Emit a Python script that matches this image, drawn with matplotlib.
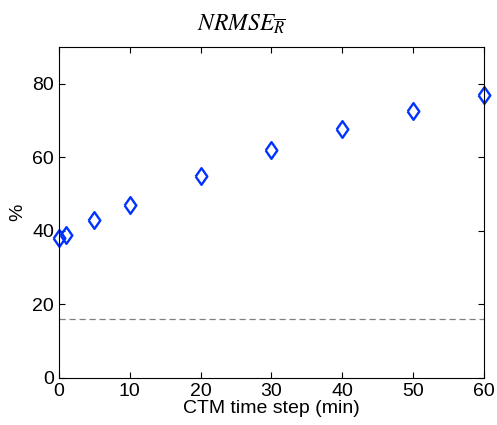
import numpy as np
import matplotlib
matplotlib.use("Agg")
from matplotlib import pyplot as plt

# datos
pasos = [0, 1, 5, 10, 20, 30, 40, 50, 60]
nrmse = [38.2, 38.8, 42.9, 47.0, 54.9, 62.0, 67.8, 72.7, 77.0]
referencia = 16.1

plt.rcParams['font.family'] = ['Liberation Sans', 'DejaVu Sans']
plt.rcParams['mathtext.fontset'] = 'stix'

# rombo un poco mas ancho que el 'd' de matplotlib
rombo = [(-0.7, 0), (0, 1), (0.7, 0), (0, -1), (-0.7, 0)]

fig = plt.figure(figsize=(4.97, 4.25), dpi=100)
ax = fig.add_axes([0.1187, 0.1106, 0.8551, 0.7784])
ax.plot(pasos, nrmse, linestyle='none', marker=rombo, markersize=12,
        markerfacecolor='none', markeredgecolor='#0033ff', markeredgewidth=1.7, clip_on=False)
ax.axhline(referencia, color='#808080', linestyle='--', linewidth=0.9, dashes=(5, 3))
ax.set_xlim(0, 60)
ax.set_ylim(0, 90)
ax.set_xticks([0, 10, 20, 30, 40, 50, 60])
ax.set_yticks([0, 20, 40, 60, 80])
ax.tick_params(direction='in', top=True, right=True, labelsize=14, length=4)
ax.set_xlabel("CTM time step (min)", fontsize=14, labelpad=0)
ax.set_ylabel("%", fontsize=14)
ax.set_title(r"$NRMSE_{\overline{R}}$", fontsize=17, pad=12, x=0.43)
fig.savefig("out.png", dpi=100)
